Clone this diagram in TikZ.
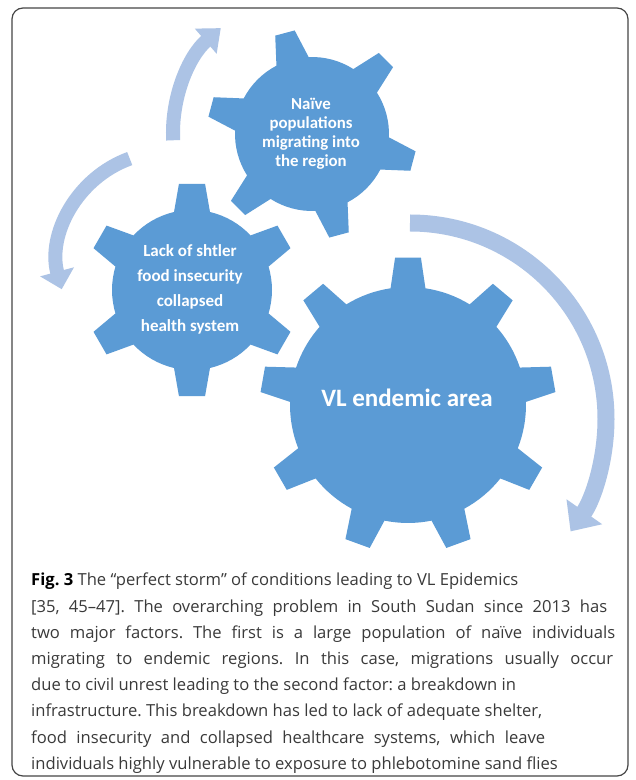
\documentclass[tikz,border=0pt]{standalone}
\usepackage{fontspec}
\setmainfont{Open Sans}
\newfontfamily\gearfont{Carlito}
\usetikzlibrary{arrows.meta}
\definecolor{gearblue}{RGB}{91,155,213}
\definecolor{arrowblue}{RGB}{172,195,229}
\definecolor{captext}{RGB}{58,58,58}
\definecolor{framecol}{RGB}{70,70,70}
\tikzset{
  gearfill/.style={fill=gearblue},
  cyclearrow/.style={draw=arrowblue, line width=#1},
  geartext/.style={text=white, align=center, inner sep=0pt},
}
\newcommand\mygear[8]{%
  \begin{scope}[shift={(#1,#2)}]
    \pgfmathsetmacro\gst{360/#3}
    \fill[gearfill] ({#6-#8}:#5) \foreach \k in {1,...,#3}{
      -- ({#6+(\k-1)*\gst-#7}:#4) -- ({#6+(\k-1)*\gst+#7}:#4) -- ({#6+(\k-1)*\gst+#8}:#5)
      arc[start angle={#6+(\k-1)*\gst+#8}, end angle={#6+\k*\gst-#8}, radius=#5]} -- cycle;
  \end{scope}}
\newcommand\capline[2]{\makebox[#1][s]{#2}}
\begin{document}
\begin{tikzpicture}[x=1pt, y=1pt]
  \fill[white] (0,0) rectangle (636,780);
  \useasboundingbox (0,0) rectangle (636,780);
  \draw[framecol, line width=1.2pt, rounded corners=11pt] (12,4) rectangle (628,772);

  % centres
  \coordinate (a1) at (312,647);
  \coordinate (a2) at (167,519);
  \coordinate (a3) at (410,361);

  % arrows
  \draw[cyclearrow=14pt, -{Triangle[width=32pt,length=20pt]}]
    ([shift={(183:139)}]a1) arc[start angle=183, end angle=131, radius=139];
  \draw[cyclearrow=14pt, -{Triangle[width=34pt,length=18pt]}]
    ([shift={(110:109)}]a2) arc[start angle=110, end angle=195, radius=109];
  \draw[cyclearrow=17pt, -{Triangle[width=42pt,length=24pt]}]
    ([shift={(90:196)}]a3) arc[start angle=90, end angle=-35, radius=196];

  % gears: cx, cy, N, R, r, phase, tip half-angle, base half-angle
  \mygear{312}{646}{6}{105}{77}{105}{5.5}{12.5}
  \mygear{192}{490}{6}{107}{80}{90}{7}{13}
  \mygear{408}{375}{9}{148}{118}{90}{5}{8.5}

  \node[geartext, font=\gearfont\bfseries\fontsize{16.8}{19}\selectfont] (naive) at (311,646.5)
    {Naïve\\populations\\migrating into\\the region};
  \node[geartext, font=\gearfont\bfseries\fontsize{17}{25}\selectfont] (lack) at (190,490.5)
    {Lack of shtler\\food insecurity\\collapsed\\health system};
  \node[geartext, font=\gearfont\bfseries\fontsize{25}{30}\selectfont] (vl) at (407,382)
    {VL endemic area};

  \node[anchor=north west, align=left, inner sep=0pt, text=captext,
        font=\fontsize{16.6}{26.2}\selectfont\frenchspacing] (caption) at (31,207)
    {\textcolor{black}{\textbf{Fig. 3}} The “perfect storm” of conditions leading to VL Epidemics\\
     \capline{576pt}{{[}35, 45–47{]}. The overarching problem in South Sudan since 2013 has}\\
     \capline{584pt}{two major factors. The first is a large population of naïve individuals}\\
     \capline{582pt}{migrating to endemic regions. In this case, migrations usually occur}\\
     due to civil unrest leading to the second factor: a breakdown in\\
     infrastructure. This breakdown has led to lack of adequate shelter,\\
     \capline{514pt}{food insecurity and collapsed healthcare systems, which leave}\\
     individuals highly vulnerable to exposure to phlebotomine sand flies};
\end{tikzpicture}
\end{document}
